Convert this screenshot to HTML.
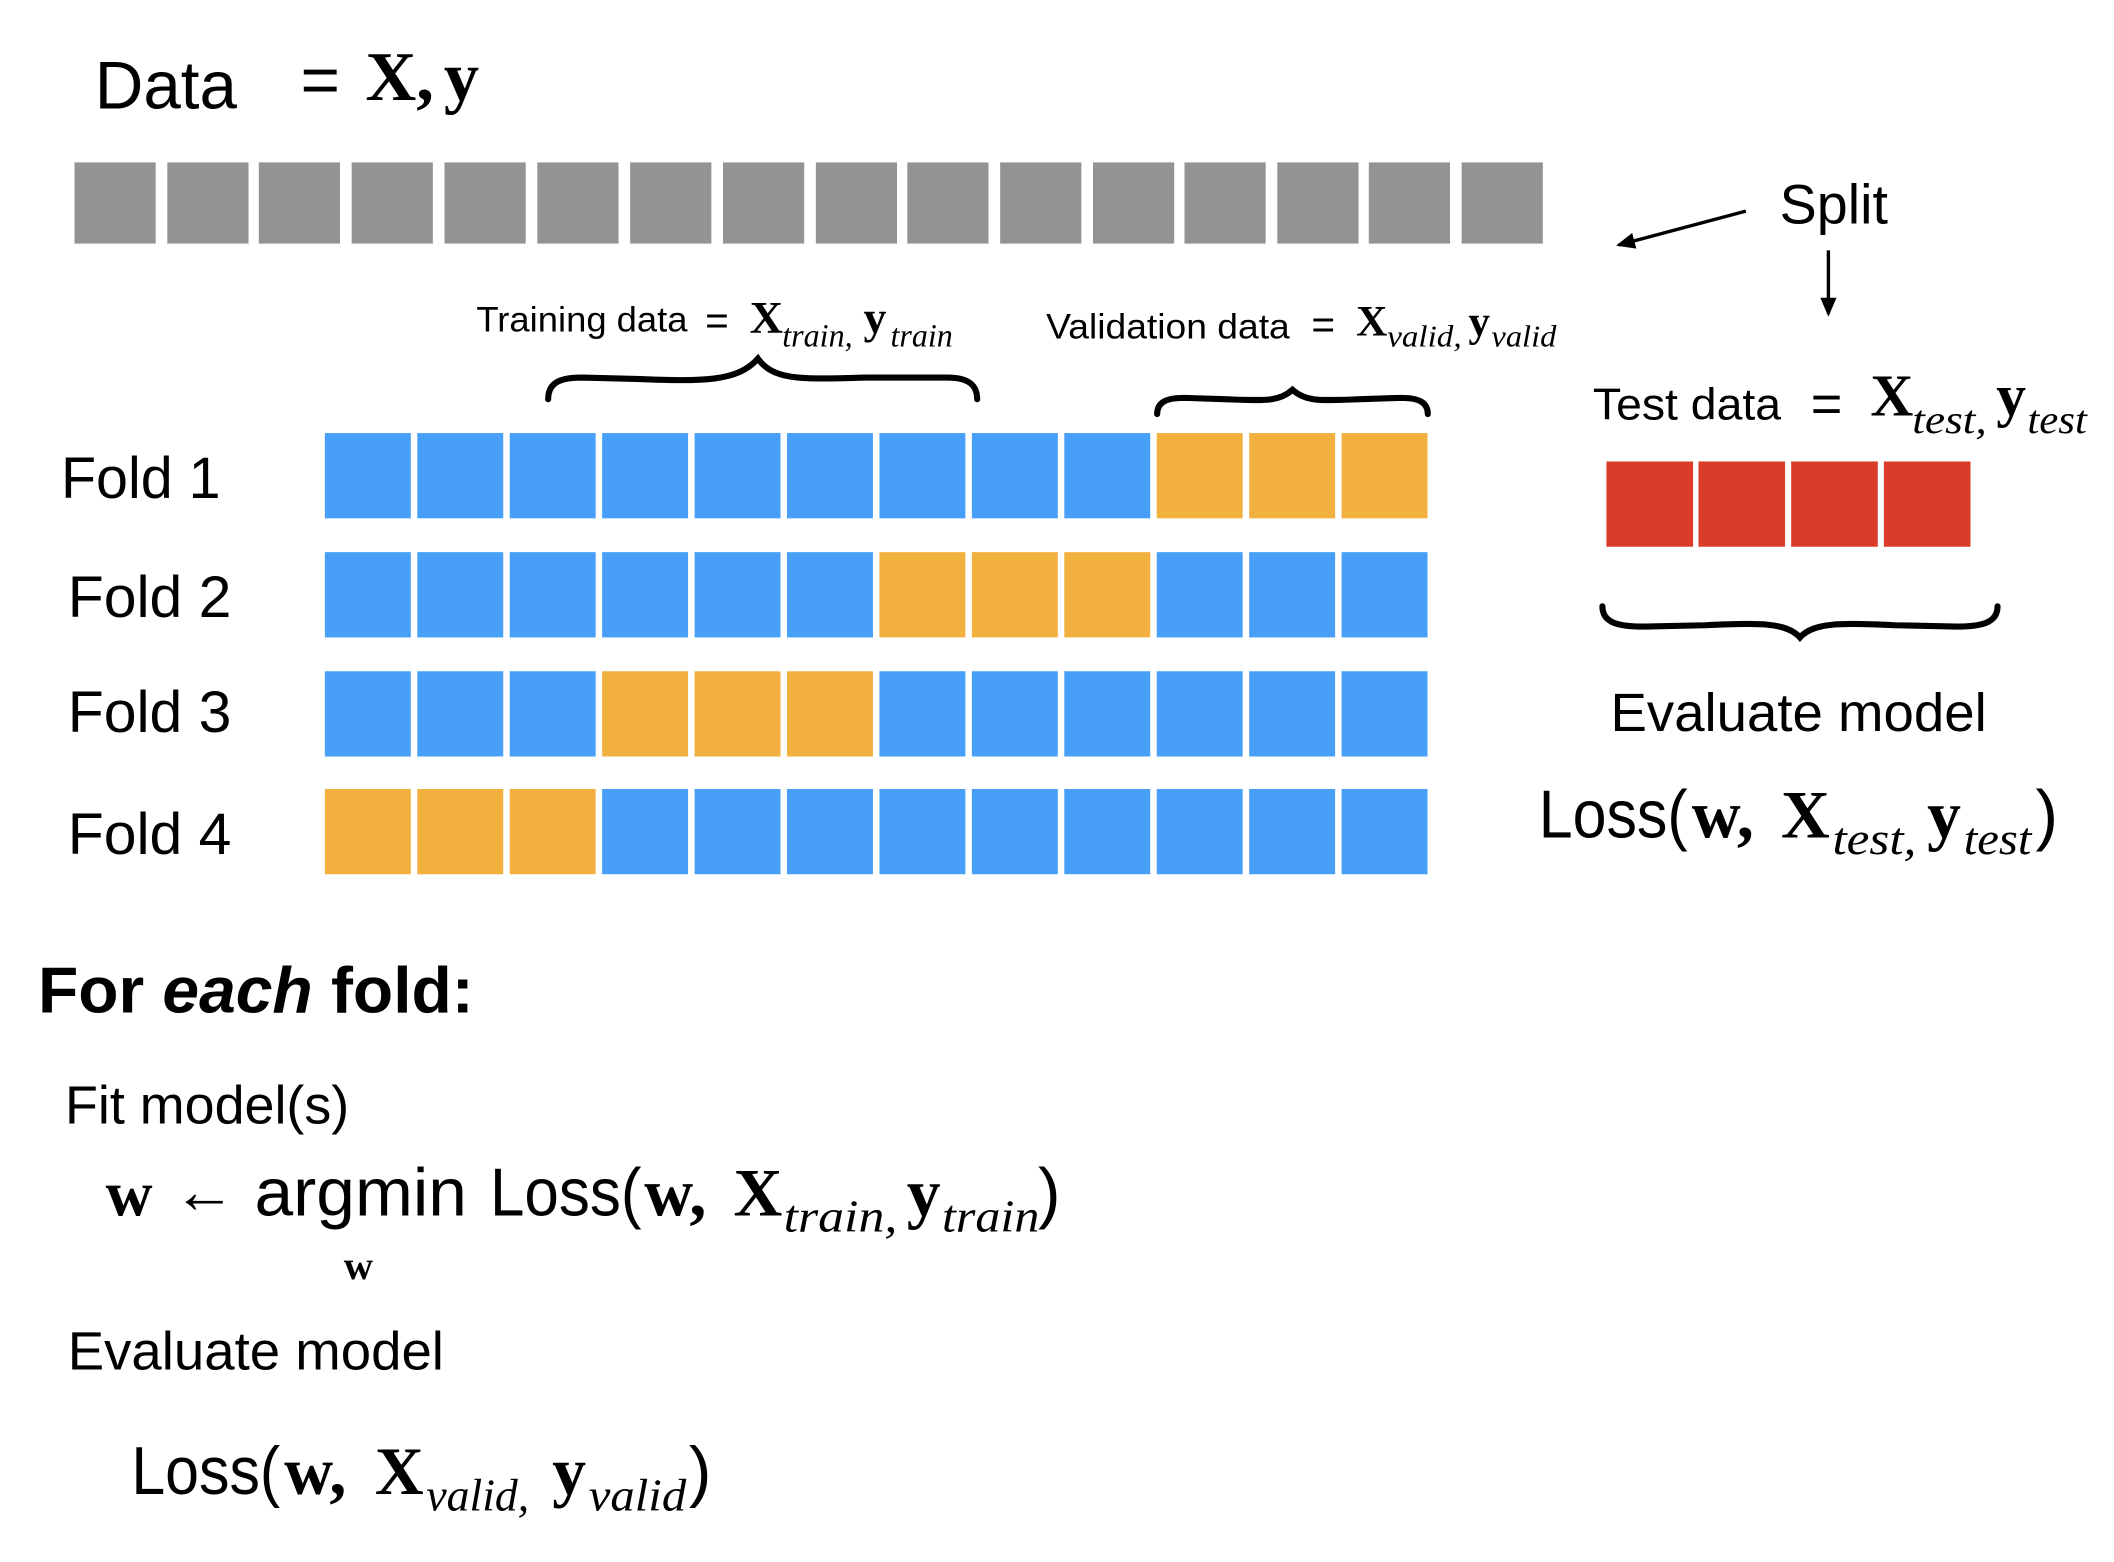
<!DOCTYPE html>
<html><head><meta charset="utf-8"><style>
html,body{margin:0;padding:0;background:#fff}
svg{display:block}
.s{font-family:"Liberation Sans",Arial,sans-serif;fill:#000}
.b{font-family:"Liberation Serif",serif;font-weight:bold;fill:#000}
.i{font-family:"Liberation Serif",serif;font-style:italic;fill:#000}
.r{font-family:"Liberation Sans",sans-serif;fill:#000}
</style></head><body>
<svg width="2114" height="1562" viewBox="0 0 1562 1154.2" xmlns="http://www.w3.org/2000/svg">
<defs>
<marker id="ah" markerWidth="14" markerHeight="12" refX="12" refY="6" orient="auto" markerUnits="userSpaceOnUse">
<path d="M0,0 L14,6 L0,12 Z" fill="#000"/></marker>
</defs>
<text class="s" x="70" y="80" font-size="50" textLength="105" lengthAdjust="spacingAndGlyphs">Data</text>
<text class="r" x="222" y="76" font-size="50">=</text>
<text class="b" x="270" y="74" font-size="52">X,</text>
<text class="b" x="328" y="74" font-size="52">y</text>
<g fill="#939393">
<rect x="55" y="120" width="60" height="60"/><rect x="123.6" y="120" width="60" height="60"/><rect x="191.2" y="120" width="60" height="60"/><rect x="259.8" y="120" width="60" height="60"/>
<rect x="328.4" y="120" width="60" height="60"/><rect x="397" y="120" width="60" height="60"/><rect x="465.6" y="120" width="60" height="60"/><rect x="534.2" y="120" width="60" height="60"/>
<rect x="602.8" y="120" width="60" height="60"/><rect x="670.4" y="120" width="60" height="60"/><rect x="739" y="120" width="60" height="60"/><rect x="807.6" y="120" width="60" height="60"/>
<rect x="875.2" y="120" width="60" height="60"/><rect x="943.8" y="120" width="60" height="60"/><rect x="1011.4" y="120" width="60" height="60"/><rect x="1080" y="120" width="60" height="60"/>
</g>
<text class="s" x="1315" y="165" font-size="41" textLength="80" lengthAdjust="spacingAndGlyphs">Split</text>
<line x1="1290" y1="156" x2="1196" y2="181" stroke="#000" stroke-width="2.5" marker-end="url(#ah)"/>
<line x1="1351" y1="185" x2="1351" y2="232" stroke="#000" stroke-width="2.5" marker-end="url(#ah)"/>
<text class="s" x="352" y="245" font-size="26" textLength="156" lengthAdjust="spacingAndGlyphs">Training data</text>
<text class="r" x="521" y="247" font-size="30">=</text>
<text class="b" x="554" y="246" font-size="34">X</text>
<text class="i" x="578" y="256" font-size="24" textLength="52" lengthAdjust="spacingAndGlyphs">train,</text>
<text class="b" x="638" y="246" font-size="34">y</text>
<text class="i" x="658" y="256" font-size="24" textLength="46" lengthAdjust="spacingAndGlyphs">train</text>
<text class="s" x="773" y="250" font-size="26" textLength="180" lengthAdjust="spacingAndGlyphs">Validation data</text>
<text class="r" x="969" y="250" font-size="30">=</text>
<text class="b" x="1002" y="248" font-size="32">X</text>
<text class="i" x="1025" y="256" font-size="23" textLength="55" lengthAdjust="spacingAndGlyphs">valid,</text>
<text class="b" x="1085" y="248" font-size="32">y</text>
<text class="i" x="1102" y="256" font-size="23" textLength="48" lengthAdjust="spacingAndGlyphs">valid</text>
<g fill="none" stroke="#000" stroke-width="4.5" stroke-linecap="round">
<path d="M405,295 C405,282 415,279 430,279 L470,280 C520,282 545,282 560,265 C572,282 595,280 640,279 L700,279 C715,279 722,284 722,295"/>
<path d="M855,306 C855,297 862,294 875,294 L905,295 C935,296 945,297 955,288 C965,297 975,296 1005,295 L1035,294 C1048,294 1055,297 1055,306"/>
<path d="M1184,448 C1184,460 1195,463 1215,463 L1260,462 C1300,460 1320,460 1330,471 C1340,460 1360,460 1400,462 L1445,463 C1465,463 1476,460 1476,448"/>
</g>
<text class="s" x="1177" y="310" font-size="33" textLength="139" lengthAdjust="spacingAndGlyphs">Test data</text>
<text class="r" x="1338" y="312" font-size="40">=</text>
<text class="b" x="1382" y="307" font-size="44">X</text>
<text class="i" x="1413" y="320" font-size="30" textLength="55" lengthAdjust="spacingAndGlyphs">test,</text>
<text class="b" x="1475" y="307" font-size="44">y</text>
<text class="i" x="1498" y="320" font-size="30" textLength="44" lengthAdjust="spacingAndGlyphs">test</text>
<g fill="#db3c29">
<rect x="1187" y="341" width="64" height="63"/><rect x="1255" y="341" width="64" height="63"/><rect x="1323.5" y="341" width="64" height="63"/><rect x="1392" y="341" width="64" height="63"/>
</g>
<text class="s" x="45" y="368" font-size="43" textLength="118" lengthAdjust="spacingAndGlyphs">Fold 1</text>
<text class="s" x="50" y="456" font-size="43" textLength="121" lengthAdjust="spacingAndGlyphs">Fold 2</text>
<text class="s" x="50" y="541" font-size="43" textLength="121" lengthAdjust="spacingAndGlyphs">Fold 3</text>
<text class="s" x="50" y="631" font-size="43" textLength="121" lengthAdjust="spacingAndGlyphs">Fold 4</text>
<g fill="#479ff8">
<rect x="240" y="320" width="63.5" height="63"/><rect x="308.3" y="320" width="63.5" height="63"/><rect x="376.6" y="320" width="63.5" height="63"/><rect x="444.9" y="320" width="63.5" height="63"/><rect x="513.2" y="320" width="63.5" height="63"/><rect x="581.5" y="320" width="63.5" height="63"/><rect x="649.8" y="320" width="63.5" height="63"/><rect x="718.1" y="320" width="63.5" height="63"/><rect x="786.4" y="320" width="63.5" height="63"/>
</g>
<g fill="#f2b13f"><rect x="854.7" y="320" width="63.5" height="63"/><rect x="923" y="320" width="63.5" height="63"/><rect x="991.3" y="320" width="63.5" height="63"/></g>
<g fill="#479ff8">
<rect x="240" y="408" width="63.5" height="63"/><rect x="308.3" y="408" width="63.5" height="63"/><rect x="376.6" y="408" width="63.5" height="63"/><rect x="444.9" y="408" width="63.5" height="63"/><rect x="513.2" y="408" width="63.5" height="63"/><rect x="581.5" y="408" width="63.5" height="63"/><rect x="854.7" y="408" width="63.5" height="63"/><rect x="923" y="408" width="63.5" height="63"/><rect x="991.3" y="408" width="63.5" height="63"/>
</g>
<g fill="#f2b13f"><rect x="649.8" y="408" width="63.5" height="63"/><rect x="718.1" y="408" width="63.5" height="63"/><rect x="786.4" y="408" width="63.5" height="63"/></g>
<g fill="#479ff8">
<rect x="240" y="496" width="63.5" height="63"/><rect x="308.3" y="496" width="63.5" height="63"/><rect x="376.6" y="496" width="63.5" height="63"/><rect x="649.8" y="496" width="63.5" height="63"/><rect x="718.1" y="496" width="63.5" height="63"/><rect x="786.4" y="496" width="63.5" height="63"/><rect x="854.7" y="496" width="63.5" height="63"/><rect x="923" y="496" width="63.5" height="63"/><rect x="991.3" y="496" width="63.5" height="63"/>
</g>
<g fill="#f2b13f"><rect x="444.9" y="496" width="63.5" height="63"/><rect x="513.2" y="496" width="63.5" height="63"/><rect x="581.5" y="496" width="63.5" height="63"/></g>
<g fill="#479ff8">
<rect x="444.9" y="583" width="63.5" height="63"/><rect x="513.2" y="583" width="63.5" height="63"/><rect x="581.5" y="583" width="63.5" height="63"/><rect x="649.8" y="583" width="63.5" height="63"/><rect x="718.1" y="583" width="63.5" height="63"/><rect x="786.4" y="583" width="63.5" height="63"/><rect x="854.7" y="583" width="63.5" height="63"/><rect x="923" y="583" width="63.5" height="63"/><rect x="991.3" y="583" width="63.5" height="63"/>
</g>
<g fill="#f2b13f"><rect x="240" y="583" width="63.5" height="63"/><rect x="308.3" y="583" width="63.5" height="63"/><rect x="376.6" y="583" width="63.5" height="63"/></g>
<text class="s" x="1190" y="540" font-size="40" textLength="278" lengthAdjust="spacingAndGlyphs">Evaluate model</text>
<text class="s" x="1137" y="619" font-size="50" textLength="110" lengthAdjust="spacingAndGlyphs">Loss(</text>
<text class="b" x="1250" y="619" font-size="50">w,</text>
<text class="b" x="1316" y="619" font-size="50">X</text>
<text class="i" x="1354" y="631" font-size="34" textLength="62" lengthAdjust="spacingAndGlyphs">test,</text>
<text class="b" x="1424" y="619" font-size="50">y</text>
<text class="i" x="1451" y="631" font-size="34" textLength="50" lengthAdjust="spacingAndGlyphs">test</text>
<text class="s" x="1504" y="619" font-size="50">)</text>
<text class="s" x="28" y="748" font-size="48" font-weight="bold" textLength="322" lengthAdjust="spacingAndGlyphs">For <tspan font-style="italic">each</tspan> fold:</text>
<text class="s" x="48" y="830" font-size="40" textLength="210" lengthAdjust="spacingAndGlyphs">Fit model(s)</text>
<text class="b" x="78" y="898" font-size="48">w</text>
<text class="r" x="128" y="896" font-size="46">←</text>
<text class="s" x="188" y="898" font-size="50" textLength="157" lengthAdjust="spacingAndGlyphs">argmin</text>
<text class="b" x="254" y="945" font-size="30">w</text>
<text class="s" x="362" y="898" font-size="50" textLength="112" lengthAdjust="spacingAndGlyphs">Loss(</text>
<text class="b" x="476" y="898" font-size="50">w,</text>
<text class="b" x="542" y="898" font-size="50">X</text>
<text class="i" x="579" y="910" font-size="34" textLength="84" lengthAdjust="spacingAndGlyphs">train,</text>
<text class="b" x="670" y="898" font-size="50">y</text>
<text class="i" x="696" y="910" font-size="34" textLength="72" lengthAdjust="spacingAndGlyphs">train</text>
<text class="s" x="767" y="898" font-size="50">)</text>
<text class="s" x="50" y="1012" font-size="40" textLength="278" lengthAdjust="spacingAndGlyphs">Evaluate model</text>
<text class="s" x="97" y="1104" font-size="50" textLength="110" lengthAdjust="spacingAndGlyphs">Loss(</text>
<text class="b" x="210" y="1104" font-size="50">w,</text>
<text class="b" x="277" y="1104" font-size="50">X</text>
<text class="i" x="315" y="1116" font-size="34" textLength="76" lengthAdjust="spacingAndGlyphs">valid,</text>
<text class="b" x="408" y="1104" font-size="50">y</text>
<text class="i" x="435" y="1116" font-size="34" textLength="72" lengthAdjust="spacingAndGlyphs">valid</text>
<text class="s" x="509" y="1104" font-size="50">)</text>
</svg>
</body></html>
